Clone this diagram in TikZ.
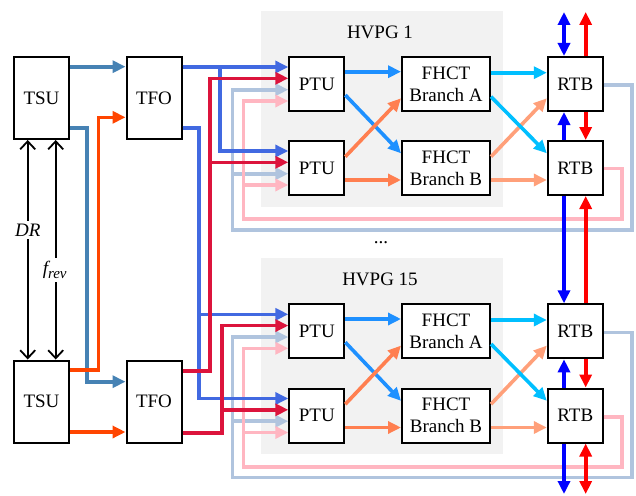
\documentclass[tikz,border=0pt]{standalone}
\usepackage{fontspec}
\setmainfont{Liberation Serif}
\usetikzlibrary{arrows.meta}
\definecolor{csteel}{HTML}{4682B4}
\definecolor{corangered}{HTML}{FF4500}
\definecolor{croyal}{HTML}{4169E1}
\definecolor{ccrimson}{HTML}{DC143C}
\definecolor{clsteel}{HTML}{B0C4DE}
\definecolor{clpink}{HTML}{FFB6C1}
\definecolor{cdodger}{HTML}{1E90FF}
\definecolor{ccoral}{HTML}{FF7F50}
\definecolor{cdsky}{HTML}{00BFFF}
\definecolor{clsalmon}{HTML}{FFA07A}
\definecolor{cblue}{HTML}{0000FF}
\definecolor{cred}{HTML}{FF0000}
\definecolor{cbg}{HTML}{F2F2F2}
\begin{document}
\begin{tikzpicture}[x=1pt,y=-1pt,
  >={Triangle[length=13pt,width=12pt]},
  blk/.style={draw=black,line width=2pt,fill=white,inner sep=0pt,align=center,font=\fontsize{19}{22}\selectfont},
  tall/.style={blk,minimum width=55pt,minimum height=82pt},
  sq/.style={blk,minimum width=55pt,minimum height=54pt},
  wide/.style={blk,minimum width=88pt,minimum height=54pt},
  wire/.style={line width=3.6pt},
  sig/.style={wire,->},
  ctl/.style={line width=1.8pt,{Straight Barb[length=8pt,width=15pt,line width=1.8pt]}-{Straight Barb[length=8pt,width=15pt,line width=1.8pt]}},
  lbl/.style={font=\fontsize{19}{22}\selectfont,inner sep=1pt},
  grp/.style={fill=cbg,draw=none,minimum width=241.7pt,minimum height=196pt,inner sep=0pt}]
\useasboundingbox (0,0) rectangle (636,495);
% groups
\node[grp] (g1) at (381.85,109.15) {};
\node[grp] (g2) at (381.85,356.3) {};
\node[lbl] (h1) at (380,32.8) {HVPG 1};
\node[lbl] (h2) at (380,279.5) {HVPG 15};
\node[lbl] (dots) at (381,243) {...};
% boxes
\node[tall] (tsu1) at (41.5,98) {TSU};
\node[tall] (tfo1) at (154,98) {TFO};
\node[tall] (tsu2) at (41.5,401.5) {TSU};
\node[tall] (tfo2) at (154,401.5) {TFO};
\node[sq] (p1) at (316.8,84) {PTU};
\node[sq] (p2) at (316.8,168) {PTU};
\node[sq] (p3) at (316.8,331.3) {PTU};
\node[sq] (p4) at (316.8,415.5) {PTU};
\node[wide] (fa1) at (446,84) {FHCT\\Branch A};
\node[wide] (fb1) at (446,168) {FHCT\\Branch B};
\node[wide] (fa2) at (446,331.3) {FHCT\\Branch A};
\node[wide] (fb2) at (446,415.5) {FHCT\\Branch B};
\node[sq] (r1) at (575.3,84) {RTB};
\node[sq] (r2) at (575.3,168) {RTB};
\node[sq] (r3) at (575.3,331.3) {RTB};
\node[sq] (r4) at (575.3,415.5) {RTB};
% feedback lines
\draw[sig,clsteel] (r1.east |- 0,85) -- (631.7,85) -- (631.7,230) -- (232.3,230) -- (232.3,89.7) -- (p1.west |- 0,89.7);
\draw[sig,clsteel] (r1.east |- 0,85) -- (631.7,85) -- (631.7,230) -- (232.3,230) -- (232.3,173.7) -- (p2.west |- 0,173.7);
\draw[sig,clpink] (r2.east |- 0,168.3) -- (621.7,168.3) -- (621.7,219) -- (243.3,219) -- (243.3,101) -- (p1.west |- 0,101);
\draw[sig,clpink] (r2.east |- 0,168.3) -- (621.7,168.3) -- (621.7,219) -- (243.3,219) -- (243.3,185) -- (p2.west |- 0,185);
\draw[sig,clsteel] (r3.east |- 0,332.3) -- (631.7,332.3) -- (631.7,477.3) -- (232.3,477.3) -- (232.3,337) -- (p3.west |- 0,337);
\draw[sig,clsteel] (r3.east |- 0,332.3) -- (631.7,332.3) -- (631.7,477.3) -- (232.3,477.3) -- (232.3,421.2) -- (p4.west |- 0,421.2);
\draw[sig,clpink] (r4.east |- 0,416.7) -- (621.7,416.7) -- (621.7,466.7) -- (243.3,466.7) -- (243.3,348.3) -- (p3.west |- 0,348.3);
\draw[sig,clpink] (r4.east |- 0,416.7) -- (621.7,416.7) -- (621.7,466.7) -- (243.3,466.7) -- (243.3,432.5) -- (p4.west |- 0,432.5);
% TSU -> TFO
\draw[sig,csteel] (tsu1.east |- 0,66.7) -- (tfo1.west |- 0,66.7);
\draw[sig,csteel] (tsu1.east |- 0,128) -- (86.7,128) -- (86.7,381.7) -- (tfo2.west |- 0,381.7);
\draw[sig,corangered] (tsu2.east |- 0,370) -- (98.3,370) -- (98.3,117.3) -- (tfo1.west |- 0,117.3);
\draw[sig,corangered] (tsu2.east |- 0,432) -- (tfo2.west |- 0,432);
% TFO -> PTU
\draw[sig,croyal] (tfo1.east |- 0,67) -- (p1.west |- 0,67);
\draw[sig,croyal] (tfo1.east |- 0,67) -- (220,67) -- (220,151) -- (p2.west |- 0,151);
\draw[sig,croyal] (tfo1.east |- 0,128) -- (199,128) -- (199,314.3) -- (p3.west |- 0,314.3);
\draw[sig,croyal] (tfo1.east |- 0,128) -- (199,128) -- (199,398.5) -- (p4.west |- 0,398.5);
\draw[sig,ccrimson] (tfo2.east |- 0,370.7) -- (210,370.7) -- (210,78.3) -- (p1.west |- 0,78.3);
\draw[sig,ccrimson] (tfo2.east |- 0,370.7) -- (210,370.7) -- (210,162.3) -- (p2.west |- 0,162.3);
\draw[sig,ccrimson] (tfo2.east |- 0,432.7) -- (221.7,432.7) -- (221.7,325.6) -- (p3.west |- 0,325.6);
\draw[sig,ccrimson] (tfo2.east |- 0,432.7) -- (221.7,432.7) -- (221.7,409.8) -- (p4.west |- 0,409.8);
% PTU -> FHCT
\draw[sig,cdodger] (p1.east |- 0,71.7) -- (fa1.west |- 0,71.7);
\draw[sig,cdodger] (p1.east |- 0,95) -- (fb1.west |- 0,153.3);
\draw[sig,ccoral] (p2.east |- 0,156.7) -- (fa1.west |- 0,98.3);
\draw[sig,ccoral] (p2.east |- 0,180) -- (fb1.west |- 0,180);
\draw[sig,cdodger] (p3.east |- 0,319) -- (fa2.west |- 0,319);
\draw[sig,cdodger] (p3.east |- 0,342.3) -- (fb2.west |- 0,400.8);
\draw[sig,ccoral] (p4.east |- 0,404.2) -- (fa2.west |- 0,345.6);
\draw[sig,ccoral] (p4.east |- 0,427.5) -- (fb2.west |- 0,427.5);
% FHCT -> RTB
\draw[sig,clsalmon] (fb1.east |- 0,156.7) -- (r1.west |- 0,98.3);
\draw[sig,clsalmon] (fb1.east |- 0,180) -- (r2.west |- 0,180);
\draw[sig,cdsky] (fa1.east |- 0,72.7) -- (r1.west |- 0,72.7);
\draw[sig,cdsky] (fa1.east |- 0,96.7) -- (r2.west |- 0,153.3);
\draw[sig,clsalmon] (fb2.east |- 0,404.2) -- (r3.west |- 0,345.6);
\draw[sig,clsalmon] (fb2.east |- 0,427.5) -- (r4.west |- 0,427.5);
\draw[sig,cdsky] (fa2.east |- 0,320) -- (r3.west |- 0,320);
\draw[sig,cdsky] (fa2.east |- 0,344) -- (r4.west |- 0,400.8);
% RTB verticals
\coordinate (bt) at (564,12);
\coordinate (rt) at (585.7,12);
\coordinate (bb) at (564,494);
\coordinate (rb) at (585.7,494);
\draw[wire,cblue,<->] (bt) -- (r1.north -| bt);
\draw[wire,cred,->] (r1.north -| rt) -- (rt);
\draw[wire,cblue,->] (r2.north -| bt) -- (r1.south -| bt);
\draw[wire,cred,->] (r1.south -| rt) -- (r2.north -| rt);
\draw[wire,cblue,->] (r2.south -| bt) -- (r3.north -| bt);
\draw[wire,cred,->] (r3.north -| rt) -- (r2.south -| rt);
\draw[wire,cblue,->] (r4.north -| bt) -- (r3.south -| bt);
\draw[wire,cred,->] (r3.south -| rt) -- (r4.north -| rt);
\draw[wire,cblue,->] (r4.south -| bt) -- (bb);
\draw[wire,cred,<->] (r4.south -| rt) -- (rb);
% DR / frev
\draw[ctl] (tsu1.south -| 27.7,0) -- (tsu2.north -| 27.7,0);
\draw[ctl] (tsu1.south -| 55.7,0) -- (tsu2.north -| 55.7,0);
\node[lbl,fill=white,inner sep=3pt,font=\fontsize{19}{22}\selectfont\itshape] (dr) at (27.7,230) {DR};
\node[lbl,fill=white,inner sep=3pt,font=\fontsize{19}{22}\selectfont\itshape] (fr) at (54.7,270) {f\raisebox{-4.5pt}{\fontsize{15}{15}\selectfont rev}};
\end{tikzpicture}
\end{document}
